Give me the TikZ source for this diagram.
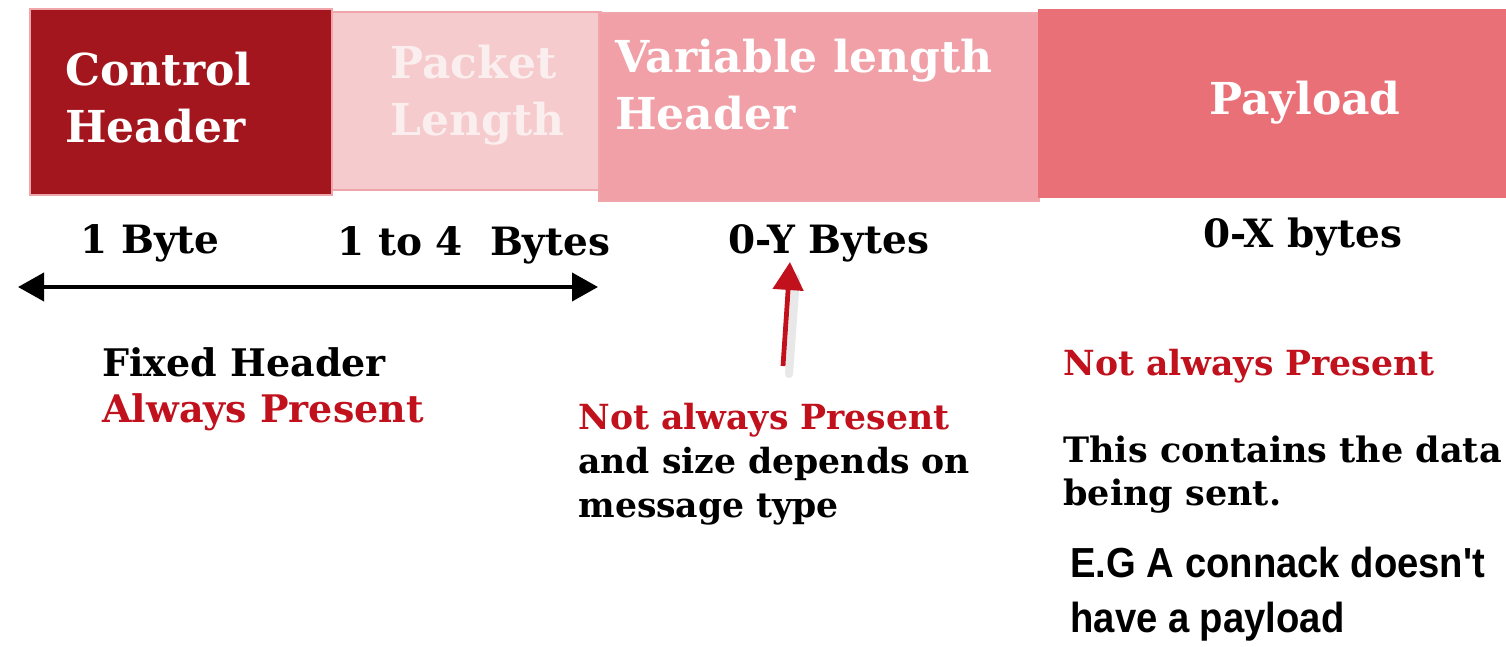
\documentclass[tikz,border=0pt]{standalone}
\usepackage{fontspec}
\setmainfont{DejaVu Serif}
\newfontfamily\arialfont[FakeStretch=0.91]{Liberation Sans}
\usetikzlibrary{arrows.meta,positioning}

\definecolor{ctrlred}{HTML}{A3161D}
\definecolor{lenpink}{HTML}{F6CBCD}
\definecolor{varpink}{HTML}{F0A0A6}
\definecolor{payred}{HTML}{EA7078}
\definecolor{edgepink}{HTML}{EFA5A9}
\definecolor{notered}{HTML}{C0111D}
\definecolor{fadedwhite}{HTML}{FBEEEE}

\begin{document}
\begin{tikzpicture}[x=0.5pt,y=-0.5pt]
\tikzset{
  field/.style={draw=edgepink, line width=1.2pt, inner sep=0pt, anchor=north west},
  boxtext/.style={text=white, font=\bfseries\fontsize{22}{28.5}\selectfont, align=left, inner sep=0pt, anchor=west},
  sizelbl/.style={font=\bfseries\fontsize{19.5}{23}\selectfont, inner sep=0pt, anchor=west},
  notetext/.style={font=\bfseries\fontsize{17.3}{22}\selectfont, align=left, inner sep=0pt, anchor=west},
  dimarrow/.style={line width=2pt, {Triangle[length=13pt,width=14pt]}-{Triangle[length=13pt,width=14pt]}},
  markarrow/.style={notered, line width=2.4pt, -{Triangle[length=14pt,width=15pt]}}
}
\useasboundingbox (0,0) rectangle (1506,647);
\fill[white] (0,0) rectangle (1506,647);

% packet fields
\node[field, fill=lenpink, minimum width=135pt, minimum height=89pt] (lenbox) at (330,11) {};
\node[field, fill=varpink, minimum width=220pt, minimum height=94pt] (varbox) at (598,12) {};
\node[field, fill=payred, draw=none, minimum width=235pt, minimum height=94.5pt] (paybox) at (1037,8) {};
\node[field, fill=ctrlred, minimum width=151pt, minimum height=93pt] (ctrlbox) at (29,8) {};

\node[boxtext] (ctrltxt) at (65,98) {Control\\Header};
\node[boxtext, text=fadedwhite] (lentxt) at (390,95) {Packet\\Length};
\node[boxtext] (vartxt) at (615,85) {Variable length\\Header};
\node[boxtext, anchor=center] (paytxt) at (1305,103) {Payload};

% sizes
\node[sizelbl] (onebyte) at (80,243) {1 Byte};
\node[sizelbl] (lenbytes) at (337,245) {1 to 4\ \ Bytes};
\node[sizelbl] (ybytes) at (728,243) {0-Y Bytes};
\node[sizelbl] (xbytes) at (1203,237) {0-X bytes};

\coordinate (fixl) at (18,287);
\coordinate (fixr) at (598,287);
\draw[dimarrow] (fixl) -- (fixr);

\coordinate (marktail) at (783,366);
\coordinate (marktip) at (790,262);
\draw[line width=4pt, black!25, opacity=0.35, line cap=round] ([shift={(6,8)}]marktail) -- ([shift={(6,16)}]marktip);
\draw[markarrow] (marktail) -- (marktip);

% notes
\node[notetext, font=\bfseries\fontsize{19}{23}\selectfont] (fixnote) at (102,389) {Fixed Header\\\textcolor{notered}{Always Present}};
\node[notetext] (varnote) at (578,464) {\textcolor{notered}{Not always Present}\\and size depends on\\message type};
\node[notetext, text=notered] (paynote) at (1063,366) {Not always Present};
\node[notetext, font=\bfseries\fontsize{17.5}{21.5}\selectfont] (datanote) at (1063,475) {This contains the data\\being sent.};
\node[align=left, inner sep=0pt, anchor=west, font=\arialfont\bfseries\fontsize{21}{27.5}\selectfont] (egnote) at (1070,594) {E.G A connack doesn't\\have a payload};
\end{tikzpicture}
\end{document}
